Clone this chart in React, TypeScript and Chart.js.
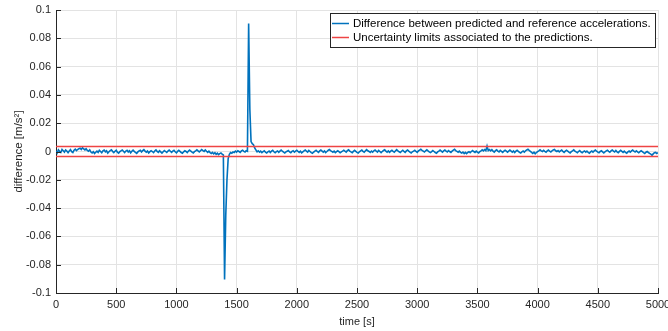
import React, { useEffect, useRef } from "react";
import { Chart, registerables } from "chart.js";

Chart.register(...registerables);

// sampling step of the difference series (s)
const SAMPLE_STEP = 10;

// difference between predicted and reference accelerations [m/s^2], one value every 10 s from 0 to 5000 s
const diffValues: number[] = [
  // 0 - 190
  0.0005, -0.0010, 0.0012, 0.0001, -0.0006, 0.0014, 0.0005, -0.0004, 0.0011, 0.0003, -0.0008, 0.0004, 0.0013, -0.0001, -0.0007, 0.0009, 0.0017, 0.0006, 0.0014, 0.0020,
  // 200 - 390
  0.0024, 0.0015, 0.0027, 0.0018, 0.0011, 0.0019, 0.0007, 0.0002, 0.0012, -0.0004, -0.0010, -0.0002, -0.0014, -0.0005, 0.0003, -0.0006, 0.0008, 0.0000, -0.0009, 0.0004,
  // 400 - 590
  0.0010, -0.0002, 0.0005, -0.0011, -0.0002, 0.0006, 0.0012, 0.0001, -0.0008, 0.0002, 0.0009, -0.0005, -0.0012, -0.0001, 0.0005, 0.0011, 0.0002, -0.0007, 0.0003, 0.0008,
  // 600 - 790
  -0.0004, 0.0005, -0.0009, 0.0002, 0.0010, 0.0001, -0.0007, -0.0013, -0.0003, 0.0004, 0.0008, -0.0003, 0.0006, 0.0013, 0.0003, -0.0005, 0.0003, -0.0010, -0.0001, 0.0006,
  // 800 - 990
  0.0000, -0.0008, 0.0004, 0.0011, 0.0001, -0.0006, 0.0005, -0.0003, -0.0011, -0.0002, 0.0007, 0.0000, -0.0007, 0.0003, 0.0010, 0.0002, -0.0006, 0.0002, 0.0008, -0.0002,
  // 1000 - 1190
  -0.0009, 0.0001, 0.0008, 0.0001, -0.0007, -0.0012, -0.0002, 0.0005, 0.0000, -0.0008, 0.0003, 0.0010, 0.0002, -0.0005, -0.0010, -0.0001, 0.0005, 0.0012, 0.0004, -0.0003,
  // 1200 - 1390
  0.0005, 0.0014, 0.0006, 0.0001, 0.0011, 0.0002, -0.0006, 0.0002, -0.0008, -0.0014, -0.0007, -0.0017, -0.0009, -0.0020, -0.0012, -0.0022, -0.0015, -0.0010, -0.0019, -0.0024,
  // 1400 - 1590
  -0.0905, -0.0450, -0.0200, -0.0050, -0.0020, -0.0008, -0.0012, -0.0003, -0.0007, 0.0003, -0.0004, 0.0005, 0.0000, -0.0006, 0.0004, 0.0009, 0.0001, -0.0003, 0.0006, 0.0002,
  // 1600 - 1790
  0.0905, 0.0300, 0.0070, 0.0055, 0.0048, 0.0025, 0.0012, -0.0002, 0.0005, -0.0005, 0.0003, -0.0008, -0.0001, 0.0005, -0.0005, -0.0011, -0.0002, 0.0003, -0.0007, 0.0002,
  // 1800 - 1990
  0.0008, -0.0002, -0.0009, -0.0001, 0.0004, -0.0006, 0.0003, 0.0010, 0.0002, -0.0005, -0.0010, -0.0003, 0.0002, 0.0007, -0.0003, -0.0008, 0.0001, 0.0005, -0.0005, 0.0003,
  // 2000 - 2190
  0.0009, 0.0001, -0.0006, 0.0002, -0.0009, -0.0002, 0.0005, 0.0011, 0.0002, -0.0004, 0.0007, 0.0000, -0.0008, -0.0013, -0.0004, 0.0003, 0.0008, 0.0000, -0.0006, 0.0004,
  // 2200 - 2390
  0.0010, 0.0003, -0.0004, 0.0004, -0.0007, 0.0000, 0.0008, 0.0014, 0.0006, 0.0001, -0.0005, 0.0002, -0.0008, -0.0001, 0.0005, -0.0001, -0.0009, -0.0002, 0.0003, 0.0009,
  // 2400 - 2590
  0.0002, -0.0004, 0.0006, 0.0012, 0.0003, -0.0003, -0.0008, 0.0001, 0.0008, 0.0001, -0.0006, -0.0011, -0.0002, 0.0004, 0.0010, 0.0001, -0.0005, 0.0005, 0.0013, 0.0005,
  // 2600 - 2790
  0.0000, -0.0007, 0.0003, -0.0005, 0.0005, 0.0011, 0.0002, -0.0004, 0.0008, 0.0000, -0.0008, 0.0000, 0.0007, 0.0012, 0.0003, -0.0004, 0.0004, -0.0006, 0.0003, 0.0009,
  // 2800 - 2990
  0.0001, -0.0005, 0.0005, 0.0013, 0.0004, -0.0002, -0.0007, 0.0002, 0.0009, 0.0001, -0.0006, 0.0004, 0.0011, 0.0003, -0.0004, -0.0010, -0.0002, 0.0003, 0.0008, 0.0000,
  // 3000 - 3190
  -0.0006, 0.0004, 0.0010, 0.0016, 0.0008, 0.0002, -0.0004, 0.0005, 0.0012, 0.0004, -0.0003, -0.0008, -0.0001, 0.0007, 0.0000, -0.0007, -0.0012, -0.0003, 0.0003, 0.0010,
  // 3200 - 3390
  0.0003, -0.0004, 0.0004, 0.0011, 0.0003, -0.0003, 0.0007, 0.0000, -0.0006, 0.0003, 0.0010, 0.0015, 0.0006, 0.0001, -0.0005, 0.0003, -0.0006, -0.0011, -0.0004, -0.0014,
  // 3400 - 3590
  -0.0006, -0.0015, -0.0007, -0.0001, -0.0008, 0.0000, 0.0007, 0.0000, -0.0006, 0.0003, -0.0005, -0.0010, -0.0001, 0.0005, 0.0012, 0.0005, 0.0014, 0.0006, 0.0038, 0.0007,
  // 3600 - 3790
  0.0014, 0.0005, 0.0013, 0.0003, -0.0004, 0.0006, 0.0012, 0.0003, -0.0003, 0.0008, 0.0001, -0.0006, 0.0002, 0.0009, 0.0002, -0.0005, 0.0003, 0.0010, 0.0003, -0.0004,
  // 3800 - 3990
  0.0004, -0.0007, 0.0002, 0.0008, 0.0001, -0.0006, -0.0011, -0.0002, 0.0003, -0.0004, 0.0005, 0.0011, 0.0016, 0.0007, 0.0001, -0.0006, -0.0014, -0.0005, -0.0016, -0.0007,
  // 4000 - 4190
  -0.0001, 0.0005, 0.0012, 0.0004, 0.0000, 0.0008, 0.0001, -0.0005, 0.0004, 0.0010, 0.0002, -0.0004, 0.0005, 0.0011, 0.0014, 0.0005, 0.0000, 0.0007, -0.0003, 0.0004,
  // 4200 - 4390
  0.0010, 0.0001, -0.0006, 0.0003, 0.0009, 0.0002, -0.0005, -0.0010, -0.0001, 0.0005, 0.0012, 0.0003, -0.0003, -0.0008, 0.0000, 0.0007, -0.0003, -0.0009, -0.0001, 0.0004,
  // 4400 - 4590
  -0.0005, 0.0003, -0.0007, -0.0012, -0.0003, 0.0003, -0.0005, 0.0004, 0.0010, 0.0002, -0.0004, -0.0009, 0.0000, 0.0005, -0.0003, -0.0010, -0.0002, 0.0004, 0.0009, 0.0001,
  // 4600 - 4790
  -0.0005, 0.0004, 0.0011, 0.0003, -0.0003, 0.0007, -0.0002, -0.0008, 0.0001, 0.0008, 0.0001, -0.0006, 0.0002, -0.0007, -0.0012, -0.0003, 0.0003, -0.0005, 0.0004, 0.0010,
  // 4800 - 4990
  0.0002, -0.0004, 0.0005, -0.0003, -0.0009, -0.0001, 0.0005, -0.0001, -0.0008, -0.0014, -0.0005, 0.0000, -0.0007, -0.0013, -0.0018, -0.0027, -0.0017, -0.0009, -0.0007, -0.0014,
  // 5000
  -0.0008,
];

// uncertainty limits [m/s^2]
const limitTimes = [0, 5000];
const upperLimit = [0.0035, 0.0035];
const lowerLimit = [-0.0035, -0.0035];

const legendLabels = [
  "Difference between predicted and reference accelerations.",
  "Uncertainty limits associated to the predictions.",
];
const seriesColors = ["#0072BD", "#EE4444"];

const X_MIN = 0;
const X_MAX = 5000;
const X_STEP = 500;
const Y_MIN = -0.1;
const Y_MAX = 0.1;
const Y_STEP = 0.02;

const FONT = "'Liberation Sans', Arial, Helvetica, sans-serif";
const TEXT_COLOR = "#262626";

const matlabPlugin = {
  id: "matlabDecor",
  afterDatasetsDraw(chart: any) {
    const { ctx, chartArea, scales } = chart;
    ctx.save();
    ctx.strokeStyle = TEXT_COLOR;
    ctx.lineWidth = 1;
    ctx.beginPath();
    for (const t of scales.y.ticks) {
      const y = Math.round(scales.y.getPixelForValue(t.value)) + 0.5;
      ctx.moveTo(chartArea.left, y);
      ctx.lineTo(chartArea.left + 5, y);
    }
    for (const t of scales.x.ticks) {
      const x = Math.round(scales.x.getPixelForValue(t.value)) + 0.5;
      ctx.moveTo(x, chartArea.bottom);
      ctx.lineTo(x, chartArea.bottom - 5);
    }
    ctx.stroke();
    ctx.restore();
  },
  afterDraw(chart: any) {
    const { ctx, chartArea } = chart;
    ctx.save();
    ctx.font = `11.5px ${FONT}`;
    const sampleLen = 17;
    const gap = 4;
    const rowH = 14;
    let maxW = 0;
    for (const l of legendLabels) maxW = Math.max(maxW, ctx.measureText(l).width);
    const boxW = Math.round(2 + sampleLen + gap + maxW + 4);
    const boxH = rowH * legendLabels.length + 6;
    const right = chartArea.right - 3;
    const left = right - boxW;
    const top = chartArea.top + 3;
    ctx.fillStyle = "#ffffff";
    ctx.fillRect(left, top, boxW, boxH);
    ctx.strokeStyle = TEXT_COLOR;
    ctx.lineWidth = 1;
    ctx.strokeRect(left + 0.5, top + 0.5, boxW, boxH);
    legendLabels.forEach((label, i) => {
      const cy = top + 3 + rowH * i + rowH / 2 + 0.5;
      ctx.strokeStyle = seriesColors[i];
      ctx.lineWidth = 1.5;
      ctx.beginPath();
      ctx.moveTo(left + 2, cy);
      ctx.lineTo(left + 2 + sampleLen, cy);
      ctx.stroke();
      ctx.fillStyle = "#000000";
      ctx.textBaseline = "middle";
      ctx.textAlign = "left";
      ctx.fillText(label, left + 2 + sampleLen + gap, cy);
    });
    ctx.restore();
  },
};

export default function App() {
  const canvasRef = useRef<HTMLCanvasElement | null>(null);

  useEffect(() => {
    if (!canvasRef.current) return;
    const diffData = diffValues.map((v, i) => ({ x: i * SAMPLE_STEP, y: v }));
    const upperData = limitTimes.map((t, i) => ({ x: t, y: upperLimit[i] }));
    const lowerData = limitTimes.map((t, i) => ({ x: t, y: lowerLimit[i] }));

    const chart = new Chart(canvasRef.current, {
      type: "line",
      data: {
        datasets: [
          {
            label: legendLabels[0],
            data: diffData,
            borderColor: seriesColors[0],
            borderWidth: 1.6,
            pointRadius: 0,
            tension: 0,
            order: 2,
          },
          {
            label: legendLabels[1],
            data: upperData,
            borderColor: seriesColors[1],
            borderWidth: 1.5,
            pointRadius: 0,
            order: 1,
          },
          {
            label: legendLabels[1] + " (lower)",
            data: lowerData,
            borderColor: seriesColors[1],
            borderWidth: 1.5,
            pointRadius: 0,
            order: 1,
          },
        ],
      },
      options: {
        responsive: false,
        animation: false,
        parsing: true,
        layout: { padding: { left: 0, right: 10, top: 10, bottom: 0 } },
        plugins: {
          legend: { display: false },
          tooltip: { enabled: false },
        },
        scales: {
          x: {
            type: "linear",
            min: X_MIN,
            max: X_MAX,
            grid: { color: "#e3e3e3", drawTicks: false, lineWidth: 1 },
            border: { display: true, color: TEXT_COLOR, width: 1 },
            ticks: {
              stepSize: X_STEP,
              padding: 5,
              maxRotation: 0,
              color: TEXT_COLOR,
              font: { family: FONT, size: 11 },
              callback: (v: any) => String(v),
            },
            title: {
              display: true,
              text: "time [s]",
              color: TEXT_COLOR,
              font: { family: FONT, size: 11 },
              padding: { top: 0, bottom: 2 },
            },
            afterFit: (scale: any) => {
              scale.height = 38;
              scale.paddingLeft = 0;
              scale.paddingRight = 0;
            },
          },
          y: {
            type: "linear",
            min: Y_MIN,
            max: Y_MAX,
            grid: { color: "#e3e3e3", drawTicks: false, lineWidth: 1 },
            border: { display: true, color: TEXT_COLOR, width: 1 },
            ticks: {
              stepSize: Y_STEP,
              padding: 5,
              color: TEXT_COLOR,
              font: { family: FONT, size: 11 },
              callback: (v: any) => String(Number(Number(v).toFixed(2)) || 0),
            },
            title: {
              display: true,
              text: "difference [m/s²]",
              color: TEXT_COLOR,
              font: { family: FONT, size: 11.5 },
              padding: { top: 12, bottom: 0 },
            },
            afterFit: (scale: any) => {
              scale.width = 56;
              scale.paddingTop = 0;
              scale.paddingBottom = 0;
            },
          },
        },
      },
      plugins: [matlabPlugin],
    } as any);

    return () => chart.destroy();
  }, []);

  return (
    <div style={{ position: "fixed", left: 0, top: 0, width: 668, height: 331, background: "#ffffff" }}>
      <canvas ref={canvasRef} width={668} height={331} style={{ width: 668, height: 331 }} />
    </div>
  );
}
